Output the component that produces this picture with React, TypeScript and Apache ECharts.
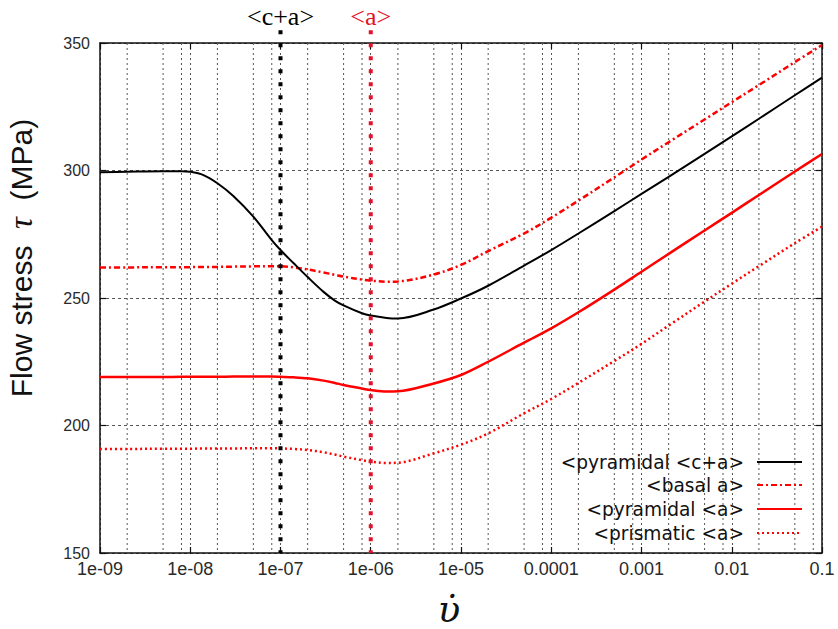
import React, { useEffect, useRef } from 'react';
import * as echarts from 'echarts';

// strain rate samples (x, log scale)
const strainRates = [
  1e-9, 2e-9, 5e-9, 8e-9, 1e-8, 1.4e-8, 2e-8, 3e-8, 5e-8, 8e-8, 1e-7, 1.4e-7, 2e-7, 3e-7, 4e-7, 5e-7, 8e-7,
  1e-6, 1.5e-6, 2e-6, 5e-6, 1e-5, 2e-5, 5e-5, 1e-4, 2e-4, 5e-4, 1e-3, 2e-3, 5e-3, 1e-2, 2e-2, 5e-2, 1e-1,
];
const pyramidalCA = [
  299.3, 299.5, 299.7, 299.7, 299.5, 298.2, 295.0, 290.0, 281.9, 272.7, 268.8, 263.6, 258.2, 252.4, 249.0, 247.1, 244.0,
  243.1, 242.2, 242.0, 245.5, 249.8, 254.8, 262.7, 268.8, 275.3, 284.1, 290.8, 297.5, 306.5, 313.4, 320.3, 329.5, 336.4,
];
const basalA = [
  262.0, 262.0, 262.1, 262.1, 262.1, 262.2, 262.2, 262.3, 262.4, 262.5, 262.5, 262.0, 261.2, 260.0, 259.1, 258.4, 257.2,
  256.8, 256.4, 256.5, 259.2, 263.0, 268.4, 275.3, 281.5, 288.2, 297.3, 304.3, 311.1, 320.0, 326.8, 333.5, 342.5, 349.2,
];
const pyramidalA = [
  219.0, 219.0, 219.0, 219.1, 219.1, 219.1, 219.1, 219.2, 219.2, 219.2, 219.1, 218.9, 218.5, 217.6, 216.7, 215.9, 214.5,
  213.9, 213.3, 213.4, 216.5, 219.8, 225.0, 232.5, 238.1, 244.4, 253.3, 260.3, 267.3, 276.5, 283.4, 290.4, 299.6, 306.5,
];
const prismaticA = [
  190.8, 190.8, 190.9, 190.9, 190.9, 191.0, 191.0, 191.0, 191.1, 191.1, 191.0, 190.8, 190.4, 189.5, 188.6, 187.8, 186.4,
  185.8, 185.3, 185.4, 189.1, 192.5, 196.9, 204.8, 210.4, 216.7, 225.3, 232.0, 239.2, 248.6, 255.6, 262.5, 271.5, 278.0,
];

const seriesNames = ['<pyramidal <c+a>', '<basal a>', '<pyramidal <a>', '<prismatic <a>'];
const xTickLabels = ['1e-09', '1e-08', '1e-07', '1e-06', '1e-05', '0.0001', '0.001', '0.01', '0.1'];
const decadeStarts = [1e-9, 1e-8, 1e-7, 1e-6, 1e-5, 1e-4, 1e-3, 1e-2];
const minorMultipliers = [2, 5, 8];
const markerRates = [1e-7, 1e-6];
const markerLabels = ['<c+a>', '<a>'];
const markerColors = ['#000000', '#e3122a'];
const yMin = 150;
const yMax = 350;
const yStep = 50;
const markerTop = 355;

export default function App() {
  const ref = useRef<HTMLDivElement>(null);
  useEffect(() => {
    if (!ref.current) return;
    const chart = echarts.init(ref.current, undefined, { renderer: 'svg' });
    const pts = (ys: number[]) => strainRates.map((x, i) => [x, ys[i]]);
    const minorGrid: number[] = [];
    decadeStarts.forEach((d) => minorMultipliers.forEach((m) => minorGrid.push(d * m)));
    const xLabel = (v: number) => {
      const idx = Math.round(Math.log10(v)) + 9;
      return xTickLabels[idx] ?? '';
    };
    const red = '#ff0000';
    const legendTops = [452, 475, 499, 523];
    const smooth = 0.35;

    chart.setOption({
      animation: false,
      backgroundColor: '#ffffff',
      grid: { left: 100, right: 16, top: 43, bottom: 76, show: false, containLabel: false, outerBoundsMode: 'none' },
      xAxis: [
        {
          type: 'log', logBase: 10, min: 1e-9, max: 0.1, splitNumber: 8,
          axisLine: { show: true, lineStyle: { color: '#111', width: 1.5 } },
          axisTick: { show: true, inside: true, length: 6, lineStyle: { color: '#111', width: 1.2 } },
          axisLabel: { formatter: xLabel, fontFamily: 'Liberation Sans', fontSize: 18, color: '#2a2a2a', margin: 7 },
          splitLine: { show: true, lineStyle: { color: '#555', width: 1, type: [2, 3] } },
          minorTick: { show: false },
          name: 'υ̇',
          nameLocation: 'middle',
          nameGap: 41,
          nameTextStyle: {
            fontFamily: 'DejaVu Serif', fontStyle: 'italic', fontSize: 37, lineHeight: 30, color: '#111',
            padding: [0, 24, 0, 0],
          },
        },
        {
          type: 'log', logBase: 10, min: 1e-9, max: 0.1, splitNumber: 8, position: 'top',
          axisLine: { show: true, lineStyle: { color: '#111', width: 1.5 } },
          axisTick: { show: true, inside: true, length: 6, lineStyle: { color: '#111', width: 1.2 } },
          axisLabel: { show: false },
          splitLine: { show: false },
        },
      ],
      yAxis: [
        {
          type: 'value', min: yMin, max: yMax, interval: yStep,
          axisLine: { show: true, lineStyle: { color: '#111', width: 1.5 } },
          axisTick: { show: true, inside: true, length: 6, lineStyle: { color: '#111', width: 1.2 } },
          axisLabel: { fontFamily: 'Liberation Sans', fontSize: 16, color: '#2a2a2a', margin: 10 },
          splitLine: { show: true, lineStyle: { color: '#555', width: 1, type: [3, 3] } },
          name: 'Flow stress  {t|τ}  (MPa)',
          nameLocation: 'middle',
          nameGap: 64,
          nameTextStyle: {
            fontFamily: 'Liberation Sans', fontSize: 30, lineHeight: 30, color: '#111', padding: [0, 0, 0, 80],
            rich: { t: { fontFamily: 'Liberation Serif', fontStyle: 'italic', fontSize: 33, lineHeight: 30, color: '#111' } },
          },
        },
        {
          type: 'value', min: yMin, max: yMax, interval: yStep, position: 'right',
          axisLine: { show: true, lineStyle: { color: '#111', width: 1.5 } },
          axisTick: { show: true, inside: true, length: 6, lineStyle: { color: '#111', width: 1.2 } },
          axisLabel: { show: false },
          splitLine: { show: false },
        },
      ],
      legend: seriesNames.map((n, i) => ({
        data: [n],
        right: 35,
        top: legendTops[i],
        orient: 'vertical',
        align: 'right',
        itemWidth: 45,
        itemHeight: 14,
        padding: 0,
        selectedMode: false,
        itemStyle: { opacity: 0 },
        textStyle: { fontFamily: 'DejaVu Sans', fontSize: 18.6, color: '#111', lineHeight: 20, padding: [0, 8, 0, 0] },
      })),
      series: [
        {
          name: 'minor-grid', type: 'custom', xAxisIndex: 0, yAxisIndex: 0, silent: true, z: 1, clip: false,
          data: minorGrid.map((v) => [v, yMin]),
          renderItem: (params: any, api: any) => {
            const v = api.value(0);
            const p1 = api.coord([v, yMax]);
            const p2 = api.coord([v, yMin]);
            return {
              type: 'line',
              shape: { x1: p1[0], y1: p1[1], x2: p2[0], y2: p2[1] },
              style: { stroke: '#555', lineWidth: 1, lineDash: [2, 3] },
            };
          },
        },
        {
          name: seriesNames[0], type: 'line', data: pts(pyramidalCA), symbol: 'none', smooth, z: 4,
          lineStyle: { color: '#000', width: 2 }, itemStyle: { color: '#000' },
        },
        {
          name: seriesNames[1], type: 'line', data: pts(basalA), symbol: 'none', smooth, z: 3,
          lineStyle: { color: red, width: 2.5, type: [6, 3, 2, 3] }, itemStyle: { color: red },
        },
        {
          name: seriesNames[2], type: 'line', data: pts(pyramidalA), symbol: 'none', smooth, z: 3,
          lineStyle: { color: red, width: 2.5 }, itemStyle: { color: red },
        },
        {
          name: seriesNames[3], type: 'line', data: pts(prismaticA), symbol: 'none', smooth, z: 3,
          lineStyle: { color: red, width: 2.5, type: [2, 3] }, itemStyle: { color: red },
        },
        {
          name: 'markers', type: 'custom', xAxisIndex: 0, yAxisIndex: 0, silent: true, z: 6, clip: false,
          data: markerRates.map((v) => [v, yMin]),
          renderItem: (params: any, api: any) => {
            const i = params.dataIndex;
            const v = api.value(0);
            const top = api.coord([v, markerTop]);
            const bottom = api.coord([v, yMin]);
            return {
              type: 'group',
              children: [
                {
                  type: 'line',
                  shape: { x1: top[0], y1: top[1], x2: bottom[0], y2: bottom[1] },
                  style: { stroke: markerColors[i], lineWidth: 4, lineDash: [4, 9], lineCap: 'butt' },
                },
                {
                  type: 'text',
                  x: top[0],
                  y: top[1] - 1,
                  style: {
                    text: markerLabels[i],
                    fill: markerColors[i],
                    font: '26px "Liberation Serif"',
                    align: 'center',
                    verticalAlign: 'bottom',
                    textAlign: 'center',
                    textVerticalAlign: 'bottom',
                  },
                },
              ],
            };
          },
        },
      ],
    });
    return () => chart.dispose();
  }, []);
  return <div ref={ref} style={{ position: 'absolute', left: 0, top: 0, width: 838, height: 629 }} />;
}
